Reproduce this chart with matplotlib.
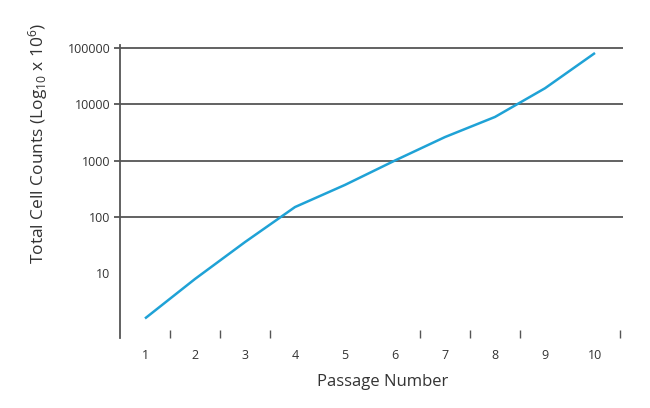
import numpy as np
import matplotlib
matplotlib.use("Agg")
import matplotlib.pyplot as plt

# --- data ---
passage = [1, 2, 3, 4, 5, 6, 7, 8, 9, 10]
cell_counts = [1.6, 8, 36, 150, 370, 1000, 2600, 5900, 19000, 80000]

ytick_vals = [10, 100, 1000, 10000, 100000]
ytick_labels = ["10", "100", "1000", "10000", "100000"]
xminor = [1.5, 2.5, 3.5, 6.5, 7.5, 8.5, 10.5]

plt.rcParams.update({
    "font.family": ["Open Sans", "DejaVu Sans"],
    "mathtext.fontset": "custom",
    "mathtext.rm": "Open Sans",
    "mathtext.it": "Open Sans",
    "mathtext.default": "regular",
})

fig = plt.figure(figsize=(6.5, 4.08), dpi=100)
ax = fig.add_axes([120/650, 1-338/408, (623-120)/650, (338-45)/408])

line_col = "#1fa2d6"
grid_col = "#555555"
txt_col = "#333333"

ax.plot(passage, cell_counts, color=line_col, lw=1.8, solid_capstyle="butt")

ax.set_yscale("log")
ax.set_xlim(0.5, 10.56)
# y axis: 56.5 px per decade, bottom at 338 px, top at 45 px
lo = 10 ** ((330 - 338) / 56.5)
hi = 10 ** ((330 - 45) / 56.5)
ax.set_ylim(lo, hi)

ax.set_yticks(ytick_vals)
ax.set_yticklabels(ytick_labels)
ax.yaxis.set_minor_locator(matplotlib.ticker.NullLocator())
ax.tick_params(axis="y", which="major", direction="out", length=4,
               width=1.3, color=grid_col, labelsize=9, pad=3,
               labelcolor=txt_col)
ax.grid(True, axis="y", color=grid_col, lw=1.3)
t0 = ax.yaxis.get_major_ticks()[0]
t0.gridline.set_visible(False)
t0.tick1line.set_visible(False)

ax.set_xticks(passage)
ax.set_xticks(xminor, minor=True)
ax.tick_params(axis="x", which="major", length=0, labelsize=9, pad=8,
               labelcolor=txt_col)
ax.tick_params(axis="x", which="minor", direction="in", length=6,
               width=1.0, color=grid_col)

for s in ["top", "right", "bottom"]:
    ax.spines[s].set_visible(False)
ax.spines["left"].set_color(grid_col)
ax.spines["left"].set_linewidth(1.3)
ax.set_axisbelow(True)

ax.set_xlabel("Passage Number", fontsize=12, color=txt_col)
ax.xaxis.set_label_coords((383 - 120) / 503, -(382 - 338) / 293)
ax.xaxis.label.set_verticalalignment("center")
ax.set_ylabel(r"Total Cell Counts (Log$_{10}$ x 10$^{6}$)", fontsize=12.5,
              color=txt_col)
ax.yaxis.set_label_coords((38 - 120) / 503, (338 - 143) / 293)
ax.yaxis.label.set_verticalalignment("center")

fig.savefig("out.png", dpi=100, facecolor="white")
